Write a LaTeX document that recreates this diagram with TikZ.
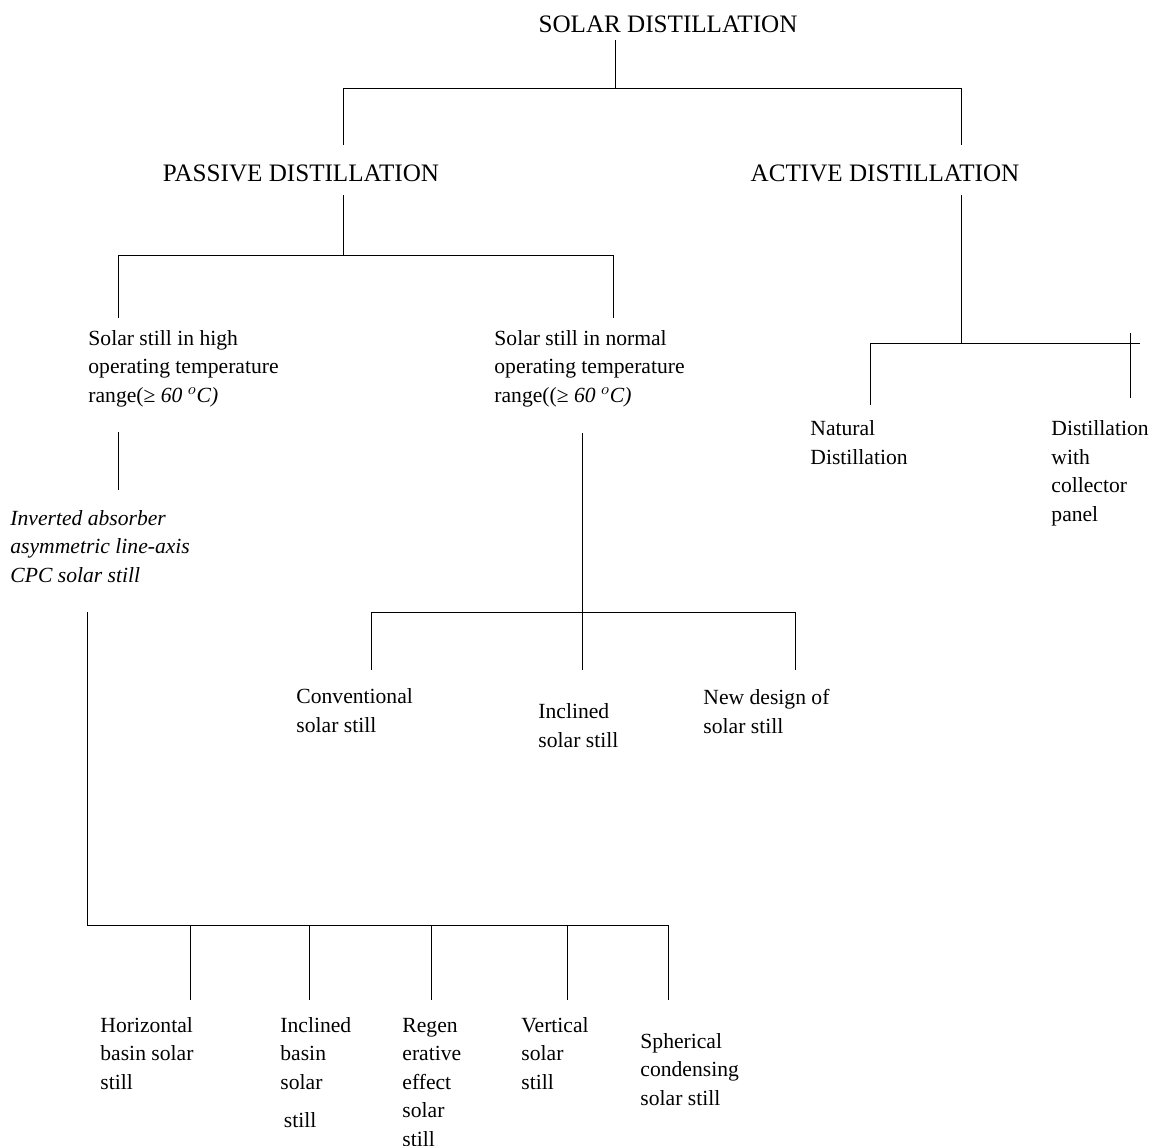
\documentclass[tikz,border=0pt]{standalone}
\usepackage{fontspec}
\setmainfont{Liberation Serif}
\usepackage{tikz}
\usetikzlibrary{positioning}

\begin{document}
\begin{tikzpicture}[
	x=0.02cm, y=-0.02cm,
	line width=0.5pt,
	font=\fontsize{12.3}{16.2}\selectfont
]
\tikzset{
    head/.style = {anchor=base, inner sep=0pt, font=\fontsize{14.3}{16.2}\selectfont},
    leaf/.style = {anchor=base west, align=left, inner sep=0pt},
    branch/.style = {draw=black, line width=0.5pt}
}
\useasboundingbox (0,0) rectangle (1171,1146);

% headings
\node[head] (SD) at (668,32) {SOLAR DISTILLATION};
\node[head] (PD) at (301,181) {PASSIVE DISTILLATION};
\node[head] (AD) at (885,181) {ACTIVE DISTILLATION};

% second level (placed by the baseline of the last line)
\node[leaf] (HT) at (88,402) {Solar still in high\\operating temperature\\range(≥ \textit{60 $^o$C)}};
\node[leaf] (NT) at (494,402) {Solar still in normal\\operating temperature\\range((≥ \textit{60 $^o$C)}};
\node[leaf] (ND) at (810,464) {Natural\\Distillation};
\node[leaf] (DC) at (1051,521) {Distillation\\with\\collector\\panel};

% third level
\node[leaf] (IA) at (10,582) {\itshape Inverted absorber\\\itshape asymmetric line-axis\\\itshape CPC solar still};
\node[leaf] (CS) at (296,732) {Conventional\\solar still};
\node[leaf] (IS) at (538,747) {Inclined\\solar still};
\node[leaf] (NS) at (703,733) {New design of\\solar still};

% fourth level
\node[leaf] (HB) at (100,1089) {Horizontal\\basin solar\\still};
\node[leaf] (IB) at (280,1127) {Inclined\\basin\\solar\\[5.4pt]\hspace{2pt}still};
\node[leaf] (RE) at (402,1146) {Regen\\erative\\effect\\solar\\still};
\node[leaf] (VS) at (521,1089) {Vertical\\solar\\still};
\node[leaf] (SC) at (640,1105) {Spherical\\condensing\\solar still};

% junctions
\coordinate (SD-out) at (615,40);
\coordinate (SD-bus) at (615,88);
\coordinate (bus0-l) at (343,88);
\coordinate (bus0-r) at (961,88);
\coordinate (PD-in) at (343,145);
\coordinate (AD-in) at (961,145);

\coordinate (PD-out) at (343,195);
\coordinate (PD-bus) at (343,255);
\coordinate (bus1-l) at (118,255);
\coordinate (bus1-r) at (613,255);
\coordinate (HT-in) at (118,318);
\coordinate (NT-in) at (613,318);

\coordinate (AD-out) at (961,195);
\coordinate (AD-bus) at (961,343);
\coordinate (bus2-l) at (870,343);
\coordinate (bus2-r) at (1140,343);
\coordinate (ND-in) at (870,405);
\coordinate (DC-top) at (1130,333);
\coordinate (DC-in) at (1130,398);

\coordinate (HT-out) at (118,432);
\coordinate (IA-in) at (118,490);

\coordinate (NT-out) at (582,433);
\coordinate (NT-bus) at (582,612);
\coordinate (bus3-l) at (371,612);
\coordinate (bus3-r) at (795,612);
\coordinate (CS-in) at (371,670);
\coordinate (IS-in) at (582,670);
\coordinate (NS-in) at (795,670);

\coordinate (IA-out) at (87,612);
\coordinate (bus4-l) at (87,925);
\coordinate (bus4-r) at (668,925);
\coordinate (SC-in) at (668,1000);

% connectors
\draw[branch] (SD-out) -- (SD-bus);
\draw[branch] (PD-in) -- (bus0-l) -- (bus0-r) -- (AD-in);

\draw[branch] (PD-out) -- (PD-bus);
\draw[branch] (HT-in) -- (bus1-l) -- (bus1-r) -- (NT-in);

\draw[branch] (AD-out) -- (AD-bus);
\draw[branch] (ND-in) -- (bus2-l) -- (bus2-r);
\draw[branch] (DC-top) -- (DC-in);

\draw[branch] (HT-out) -- (IA-in);

\draw[branch] (NT-out) -- (NT-bus);
\draw[branch] (CS-in) -- (bus3-l) -- (bus3-r) -- (NS-in);
\draw[branch] (NT-bus) -- (IS-in);

\draw[branch] (IA-out) -- (bus4-l) -- (bus4-r) -- (SC-in);
\foreach \x/\n in {190/HB, 309/IB, 431/RE, 567/VS} {
	\coordinate (\n-bus) at (\x,925);
	\coordinate (\n-in) at (\x,1000);
	\draw[branch] (\n-bus) -- (\n-in);
}
\end{tikzpicture}
\end{document}
